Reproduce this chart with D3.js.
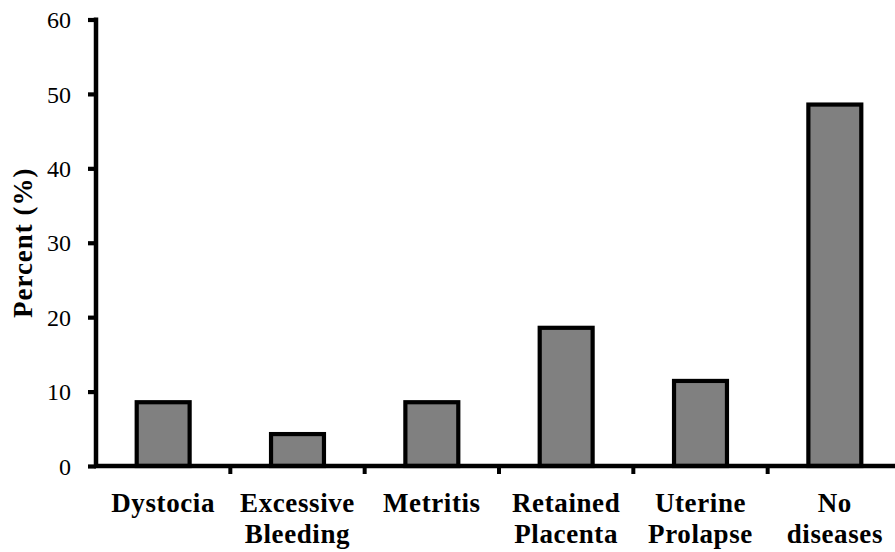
<!DOCTYPE html>
<html>
<head>
<meta charset="utf-8">
<script src="https://cdn.jsdelivr.net/npm/d3@7/dist/d3.min.js"></script>
<style>
  html, body { margin: 0; padding: 0; background: #fff; }
  svg { display: block; }
  text { font-family: "Liberation Serif", "Times New Roman", serif; fill: #000; }
</style>
</head>
<body>
<svg id="chart" width="895" height="552"></svg>
<script>
// Data
const categories = [
  ["Dystocia"],
  ["Excessive", "Bleeding"],
  ["Metritis"],
  ["Retained", "Placenta"],
  ["Uterine", "Prolapse"],
  ["No", "diseases"]
];
const values = [8.57, 4.29, 8.57, 18.57, 11.43, 48.57];
const yTicks = [0, 10, 20, 30, 40, 50, 60];
const yTitle = "Percent (%)";

const svg = d3.select("#chart");
const mLeft = 96, mRight = 902, mTop = 19.5, mBottom = 466;

const x = d3.scaleBand()
  .domain(d3.range(categories.length))
  .range([mLeft, mRight])
  .padding(0);

const y = d3.scaleLinear().domain([0, 60]).range([mBottom, mTop]);

const barW = x.bandwidth() * 0.394;

// Bars
svg.append("g").selectAll("rect")
  .data(values)
  .join("rect")
  .attr("x", (d, i) => x(i) + x.bandwidth() / 2 - barW / 2)
  .attr("y", d => y(d))
  .attr("width", barW)
  .attr("height", d => y(0) - y(d))
  .attr("fill", "#808080")
  .attr("stroke", "#000")
  .attr("stroke-width", 4.2);

// Y axis
const yAxis = svg.append("g").attr("transform", `translate(${mLeft},0)`)
  .call(d3.axisLeft(y).tickValues(yTicks).tickSize(8).tickPadding(17).tickFormat(d3.format("d")));
yAxis.select(".domain").remove();
yAxis.append("line")
  .attr("x1", 0).attr("x2", 0)
  .attr("y1", y(60) - 2).attr("y2", y(0) + 2)
  .attr("stroke", "#000").attr("stroke-width", 4.5);
yAxis.selectAll(".tick line").attr("stroke", "#000").attr("stroke-width", 4.2);
yAxis.selectAll(".tick text")
  .style("font-size", "24px")
  .style("font-family", "'Liberation Serif', 'Times New Roman', serif")
  .attr("dy", "0.34em")
  .attr("fill", "#000");

// X axis
const boundaries = d3.range(1, categories.length).map(i => x(i));
const xg = svg.append("g");
xg.append("line")
  .attr("x1", mLeft - 2).attr("x2", mRight)
  .attr("y1", mBottom).attr("y2", mBottom)
  .attr("stroke", "#000").attr("stroke-width", 4.5);
xg.selectAll("line.tk")
  .data(boundaries)
  .join("line")
  .attr("class", "tk")
  .attr("x1", d => d).attr("x2", d => d)
  .attr("y1", mBottom).attr("y2", mBottom + 8)
  .attr("stroke", "#000").attr("stroke-width", 4);

// Category labels
const lab = svg.append("g").selectAll("text")
  .data(categories)
  .join("text")
  .attr("text-anchor", "middle")
  .attr("font-weight", "bold")
  .style("font-size", "27px")
  .style("letter-spacing", "0.6px")
  .attr("transform", (d, i) => `translate(${x(i) + x.bandwidth() / 2},0)`);
lab.selectAll("tspan")
  .data(d => d)
  .join("tspan")
  .attr("x", 0)
  .attr("y", (d, j) => 512 + j * 31)
  .text(d => d);

// Y title
svg.append("text")
  .attr("transform", `translate(32,${(mTop + mBottom) / 2}) rotate(-90)`)
  .attr("text-anchor", "middle")
  .attr("font-weight", "bold")
  .style("font-size", "27px")
  .style("letter-spacing", "1px")
  .text(yTitle);
</script>
</body>
</html>
